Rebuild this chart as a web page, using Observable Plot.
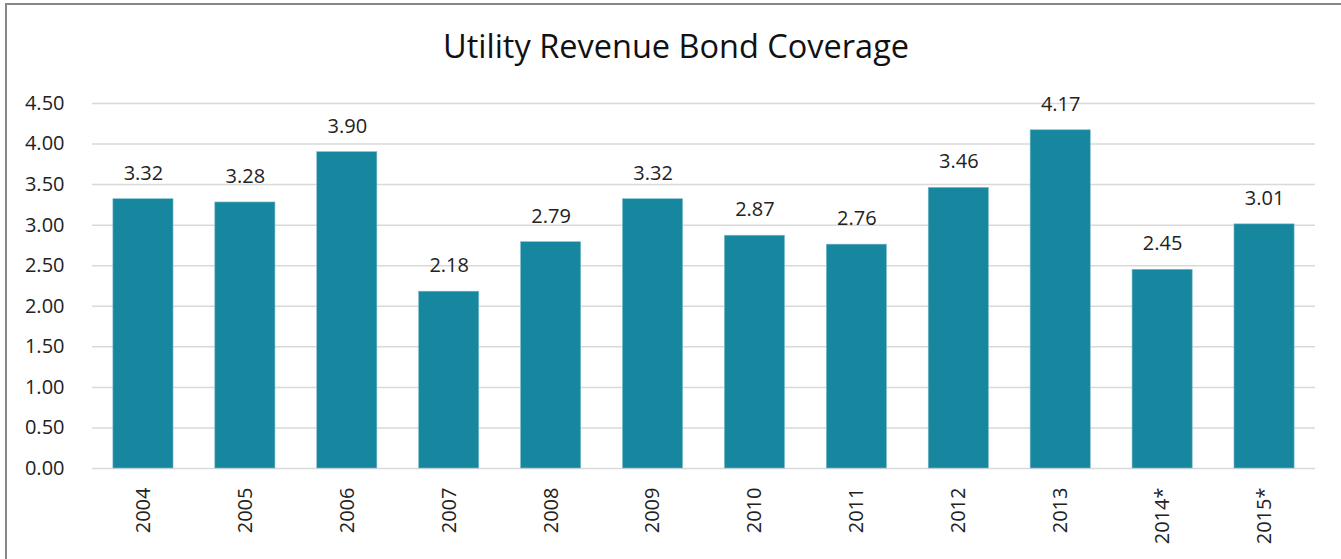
<!DOCTYPE html>
<html>
<head>
<meta charset="utf-8">
<script src="https://cdn.jsdelivr.net/npm/d3@7"></script>
<script src="https://cdn.jsdelivr.net/npm/@observablehq/plot@0.6"></script>
<style>
  html, body { margin: 0; padding: 0; background: #fff; overflow: hidden; }
  #wrap { position: relative; width: 1341px; height: 559px; }
  #frame { position: absolute; left: 5px; top: 3px; width: 1400px; height: 600px; border: 2px solid #878787; box-sizing: border-box; }
  #title { position: absolute; left: 0; width: 1352px; top: 23px; text-align: center; font-family: "Open Sans", sans-serif; font-size: 32.5px; color: #111; }
  #chart { position: absolute; left: 0; top: 0; }
</style>
</head>
<body>
<div id="wrap">
  <div id="frame"></div>
  <div id="title">Utility Revenue Bond Coverage</div>
  <div id="chart"></div>
</div>
<script>
const years = ["2004","2005","2006","2007","2008","2009","2010","2011","2012","2013","2014*","2015*"];
const coverage = [3.32, 3.28, 3.90, 2.18, 2.79, 3.32, 2.87, 2.76, 3.46, 4.17, 2.45, 3.01];
const yTicks = [0, 0.5, 1, 1.5, 2, 2.5, 3, 3.5, 4, 4.5];

const data = years.map((y, i) => ({year: y, value: coverage[i]}));

const chart = Plot.plot({
  width: 1341,
  height: 559,
  marginLeft: 92,
  marginRight: 26,
  marginTop: 103,
  marginBottom: 91,
  style: {fontFamily: "'Open Sans', sans-serif", fontSize: "20px", color: "#222", background: "transparent"},
  x: {domain: years, paddingInner: 0.41, paddingOuter: 0.205, round: false, label: null},
  y: {domain: [0, 4.5], label: null},
  marks: [
    Plot.gridY(yTicks, {stroke: "#d9d9d9", strokeOpacity: 1, strokeWidth: 1.5}),
    Plot.barY(data, {x: "year", y: "value", fill: "#17879f", stroke: "#7cbccb", strokeWidth: 0.6}),
    Plot.text(data, {x: "year", y: "value", text: d => d3.format(".2f")(d.value), dy: -26, fontSize: 20, fill: "#222"}),
    Plot.axisX({tickSize: 0, tickPadding: 19, tickRotate: -90, fontSize: 20, label: null}),
    Plot.axisY({ticks: yTicks, tickFormat: d3.format(".2f"), tickSize: 0, tickPadding: 28, fontSize: 20, label: null})
  ]
});
document.getElementById("chart").appendChild(chart);
</script>
</body>
</html>
